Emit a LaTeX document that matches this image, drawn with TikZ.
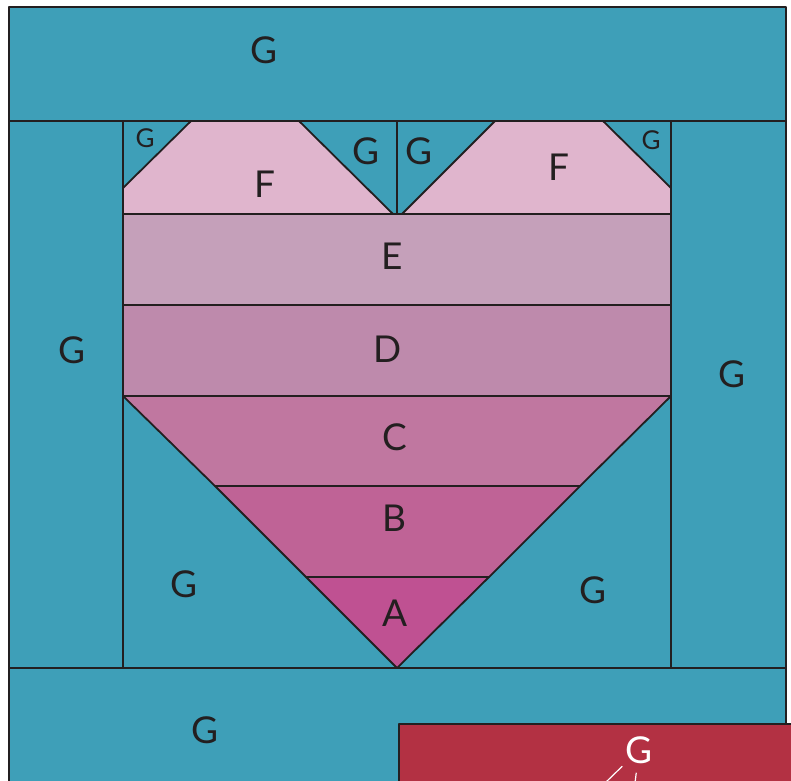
\documentclass[tikz,border=0pt]{standalone}
\usepackage{fontspec}
\setmainfont{Lato}
\usetikzlibrary{positioning}
\definecolor{ink}{RGB}{35,31,32}
\definecolor{tealG}{RGB}{62,159,184}
\definecolor{pinkF}{RGB}{224,181,205}
\definecolor{pinkE}{RGB}{197,160,186}
\definecolor{pinkD}{RGB}{190,138,172}
\definecolor{pinkC}{RGB}{192,119,160}
\definecolor{pinkB}{RGB}{191,99,150}
\definecolor{pinkA}{RGB}{191,81,146}
\definecolor{redbox}{RGB}{179,49,67}
\tikzset{
  piece/.style={draw=ink, line width=1.8pt, line join=round},
  lbl/.style={text=ink, inner sep=3pt, font=\fontsize{37}{37}\selectfont},
  smalllbl/.style={text=ink, inner sep=2pt, font=\fontsize{26}{26}\selectfont},
  wline/.style={draw=white, line width=1.2pt}
}

\begin{document}
\begin{tikzpicture}[x=1pt,y=-1pt]
        \useasboundingbox (0,0) rectangle (791,780);
        \clip (0,0) rectangle (791,780);
        \fill[white] (0,0) rectangle (791,780);
        \draw[piece, fill=tealG] (9,7) rectangle (786,800);
        \draw[piece] (9,121) -- (786,121);
        \draw[piece] (9,668) -- (786,668);
        \draw[piece] (123,121) -- (123,668);
        \draw[piece] (671,121) -- (671,668);
        \draw[piece] (397,121) -- (397,214);
        \draw[piece, fill=pinkF] (123,188) -- (191,121) -- (299,121) -- (393,214) -- (123,214) -- cycle;
        \draw[piece, fill=pinkF] (402,214) -- (495,121) -- (603,121) -- (671,188) -- (671,214) -- cycle;
        \draw[piece, fill=pinkE] (123,214) rectangle (671,305);
        \draw[piece, fill=pinkD] (123,305) rectangle (671,396);
        \draw[piece, fill=pinkC] (123,396) -- (671,396) -- (580,486) -- (215,486) -- cycle;
        \draw[piece, fill=pinkB] (215,486) -- (580,486) -- (489,577) -- (306,577) -- cycle;
        \draw[piece, fill=pinkA] (306,577) -- (489,577) -- (397,668) -- cycle;
        \draw[piece, fill=redbox] (399,724) rectangle (820,820);

        \node[lbl] (gtop) at (264,50) {G};
        \node[lbl] (gleft) at (72,350) {G};
        \node[lbl] (gright) at (732,374) {G};
        \node[lbl] (gbl) at (184,584) {G};
        \node[lbl] (gbr) at (593,590) {G};
        \node[lbl] (gbottom) at (205,730) {G};
        \node[smalllbl] (g1) at (145,138) {G};
        \node[lbl] (g2) at (366,151) {G};
        \node[lbl] (g3) at (419,151) {G};
        \node[smalllbl] (g4) at (651,140) {G};
        \node[lbl] (fleft) at (265,184) {F};
        \node[lbl] (fright) at (559,167) {F};
        \node[lbl] (e) at (392,256) {E};
        \node[lbl] (d) at (388,349) {D};
        \node[lbl] (c) at (395,437) {C};
        \node[lbl] (b) at (394,518) {B};
        \node[lbl] (a) at (395,613) {A};

        \node[lbl, text=white] (gred) at (639,750) {G};
        \coordinate (w1) at (605,783);
        \coordinate (w2) at (635,783);
        \draw[wline] (gred) -- (w1);
        \draw[wline, shorten <=6pt] (gred) -- (w2);
    \end{tikzpicture}
\end{document}
